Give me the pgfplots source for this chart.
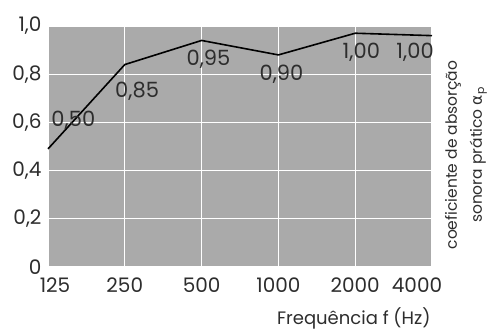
\documentclass[border=0pt]{standalone}
\usepackage{pgfplots}
\pgfplotsset{compat=1.18}
\usepackage{fontspec}
\setmainfont{Poppins}
\newfontfamily\dv{DejaVu Sans}
\definecolor{bg}{RGB}{170,170,170}
\definecolor{txt}{RGB}{45,45,45}
\begin{document}
\begin{tikzpicture}
\path[use as bounding box] (0,0) rectangle (498pt,334pt);
\begin{axis}[
  at={(48pt,67pt)}, anchor=south west,
  scale only axis, width=384pt, height=241pt,
  xmin=0, xmax=5, ymin=0, ymax=1,
  xtick={0,1,2,3,4,5},
  xticklabels={\hspace*{14pt}125,250,500,1000,2000,4000\hspace*{30pt}},
  ytick={0,0.2,0.4,0.6,0.8,1},
  yticklabels={0,{0,2},{0,4},{0,6},{0,8},{1,0}},
  major tick length=0pt,
  axis line style={draw=none},
  axis background/.style={fill=bg},
  grid=major,
  major grid style={white, line width=1.1pt},
  ticklabel style={font=\fontsize{20}{22}\selectfont, text=txt},
  xticklabel style={anchor=north, yshift=-7pt},
  yticklabel style={anchor=east, xshift=-3pt},
  clip=false,
]
\addplot[black, line width=1.6pt] coordinates {(0,0.49) (1,0.84) (2,0.94) (3,0.88) (4,0.97) (5,0.96)};
\begin{scope}[every node/.style={font=\fontsize{21}{23}\selectfont, text=txt}]
\node at (axis cs:0.33,0.61) {0,50};
\node at (axis cs:1.16,0.73) {0,85};
\node at (axis cs:2.09,0.86) {0,95};
\node at (axis cs:3.04,0.80) {0,90};
\node at (axis cs:4.08,0.89) {1,00};
\node at (axis cs:4.78,0.89) {1,00};
\end{scope}
\end{axis}
\node[anchor=east, font=\fontsize{18}{20}\selectfont, text=txt] at (434pt,16pt) {Frequência f (Hz)};
\node[rotate=90, align=center, font=\fontsize{15.5}{25}\selectfont, text=txt] at (466pt,179pt) {coeficiente de absorção\\sonora prático {\dv α}\textsubscript{p}};
\end{tikzpicture}
\end{document}
